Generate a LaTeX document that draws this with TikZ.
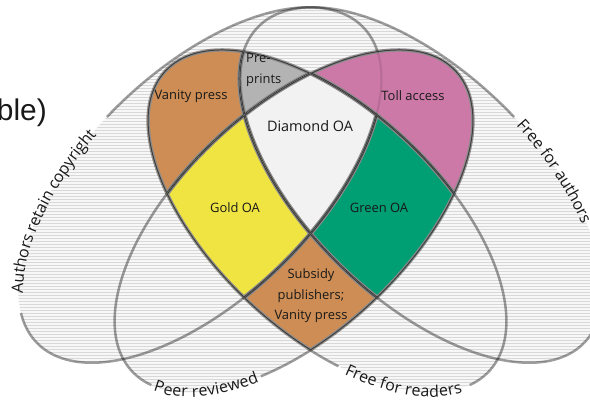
\documentclass[tikz,border=0pt]{standalone}
\usepackage{fontspec}
\setmainfont{Open Sans}
\newfontfamily\slidefont{Liberation Sans}
\usetikzlibrary{decorations.text}
\definecolor{brownfill}{RGB}{205,141,84}
\definecolor{prefill}{RGB}{179,179,179}
\definecolor{diafill}{RGB}{242,242,242}
\definecolor{tollfill}{RGB}{204,121,167}
\definecolor{goldfill}{RGB}{240,228,66}
\definecolor{greenfill}{RGB}{0,158,115}
\definecolor{hatchbg}{RGB}{247,247,247}
\definecolor{hatchln}{RGB}{216,216,216}
\definecolor{edgedark}{RGB}{62,62,62}
\definecolor{edgegray}{RGB}{140,140,140}
\definecolor{labeltext}{RGB}{25,25,25}
\newcommand\EllR{\pgfpathellipse{\pgfpoint{200bp}{225bp}}{\pgfpointpolar{44}{227bp}}{\pgfpointpolar{134}{114bp}}}
\newcommand\EllA{\pgfpathellipse{\pgfpoint{421bp}{225bp}}{\pgfpointpolar{136}{227bp}}{\pgfpointpolar{226}{114bp}}}
\newcommand\EllP{\pgfpathellipse{\pgfpoint{294bp}{189bp}}{\pgfpointpolar{42.8}{221bp}}{\pgfpointpolar{132.8}{113bp}}}
\newcommand\EllF{\pgfpathellipse{\pgfpoint{327bp}{189bp}}{\pgfpointpolar{137.2}{221bp}}{\pgfpointpolar{227.2}{113bp}}}
\newcommand\Outside{\pgfpathmoveto{\pgfpoint{-20bp}{-20bp}}\pgfpathlineto{\pgfpoint{-20bp}{430bp}}\pgfpathlineto{\pgfpoint{610bp}{430bp}}\pgfpathlineto{\pgfpoint{610bp}{-20bp}}\pgfpathclose}
\newcommand\Keep[1]{#1\pgfusepath{clip}}
\newcommand\Drop[1]{\Outside#1\pgfusepath{clip}}
\newcommand\Region[3]{\begin{pgfscope}#1\fill[#2] (-5,-5) rectangle (595,415);
\pgfsetlinewidth{4.4bp}\pgfsetstrokecolor{edgegray}#3\pgfusepath{stroke}
\pgfsetlinewidth{2bp}\pgfsetstrokecolor{edgedark}#3\pgfusepath{stroke}\end{pgfscope}}
\newcommand\EArc[7]{plot[domain=#6:#7, samples=150, smooth, variable=\t] ({#1+#3*cos(\t)*cos(#5)-#4*sin(\t)*sin(#5)},{#2+#3*cos(\t)*sin(#5)+#4*sin(\t)*cos(#5)})}
\newcommand\LArc[7]{plot[domain=#6:#7, samples=28, variable=\t] ({#1+#3*cos(\t)*cos(#5)-#4*sin(\t)*sin(#5)},{#2+#3*cos(\t)*sin(#5)+#4*sin(\t)*cos(#5)})}
\newcommand\outerfont{\fontsize{16}{16}\selectfont}
\begin{document}
\begin{tikzpicture}[x=1bp,y=1bp,
  outline/.style={draw=black, draw opacity=0.38, line width=2.5bp},
  reglabel/.style={text=labeltext, font=\fontsize{13}{20.5}\selectfont, align=center, inner sep=0pt},
  curvelabel/.style={decorate, decoration={text along path, text={|\outerfont|#1}, text align=center, raise=-4.5bp, text color=labeltext}}]
\useasboundingbox (0,0) rectangle (590,410);
\fill[white] (0,0) rectangle (590,410);
% hatched union of the four sets
\begin{pgfscope}
\EllR\EllA\EllP\EllF\pgfusepath{clip}
\fill[hatchbg] (0,0) rectangle (590,410);
\foreach \k in {0,...,137}{\draw[hatchln, line width=1bp] (0,3*\k+0.5) -- (590,3*\k+0.5);}
\end{pgfscope}
% ellipse outlines with gaps for the labels
\draw[outline] \EArc{200}{225}{227}{114}{44}{163.5}{455};
\draw[outline] \EArc{421}{225}{227}{114}{136}{265}{556.5};
\draw[outline] \EArc{294}{189}{221}{113}{42.8}{234}{552};
\draw[outline] \EArc{327}{189}{221}{113}{137.2}{168}{479};
% coloured regions
\Region{\Keep\EllR\Keep\EllF\Drop\EllA\Drop\EllP}{brownfill}{\EllR\EllA\EllP\EllF}
\Region{\Keep\EllR\Keep\EllF\Keep\EllA\Drop\EllP}{prefill}{\EllR\EllA\EllP\EllF}
\Region{\Keep\EllR\Keep\EllF\Keep\EllA\Keep\EllP}{diafill}{\EllR\EllA\EllP\EllF}
\Region{\Keep\EllA\Keep\EllP\Drop\EllF}{tollfill}{\EllA\EllP\EllF}
\Region{\Keep\EllR\Keep\EllF\Keep\EllP\Drop\EllA}{goldfill}{\EllR\EllA\EllP\EllF}
\Region{\Keep\EllA\Keep\EllF\Keep\EllP\Drop\EllR}{greenfill}{\EllR\EllA\EllP\EllF}
\Region{\Keep\EllF\Keep\EllP\Drop\EllR\Drop\EllA}{brownfill}{\EllR\EllA\EllP\EllF}
% faint trace of the copyright ellipse inside toll access
\begin{pgfscope}
\Keep\EllA\Keep\EllP\Drop\EllF
\draw[black, opacity=0.1, line width=2bp] \EArc{200}{225}{227}{114}{44}{0}{360};
\end{pgfscope}
% region labels
\node[reglabel] (vanity) at (191,314) {Vanity press};
\node[reglabel, align=left, anchor=west] (preprints) at (246,340) {Pre-\\prints};
\node[reglabel, font=\fontsize{14.5}{20}\selectfont] (diamond) at (310,284) {Diamond OA};
\node[reglabel] (toll) at (413,314) {Toll access};
\node[reglabel] (gold) at (235,202) {Gold OA};
\node[reglabel] (green) at (379,202) {Green OA};
\node[reglabel] (subsidy) at (311,114) {Subsidy\\publishers;\\Vanity press};
\node[font=\fontsize{30}{30}\selectfont\slidefont, anchor=base east, inner sep=0pt, text=black!90] (slide) at (47,290) {ble)};
% set labels along the ellipses
\path[curvelabel={Authors retain copyright}] \LArc{200}{225}{227}{114}{44}{163.5}{95};
\path[decorate, decoration={text along path, text={|\outerfont|Free for authors}, text align=left, raise=-4.5bp, text color=labeltext}] \LArc{421}{225}{227}{114}{136}{263}{180};
\path[curvelabel={Peer reviewed}] \LArc{294}{189}{221}{113}{42.8}{192}{234};
\path[curvelabel={Free for readers}] \LArc{327}{189}{221}{113}{137.2}{119}{168};
\end{tikzpicture}
\end{document}
